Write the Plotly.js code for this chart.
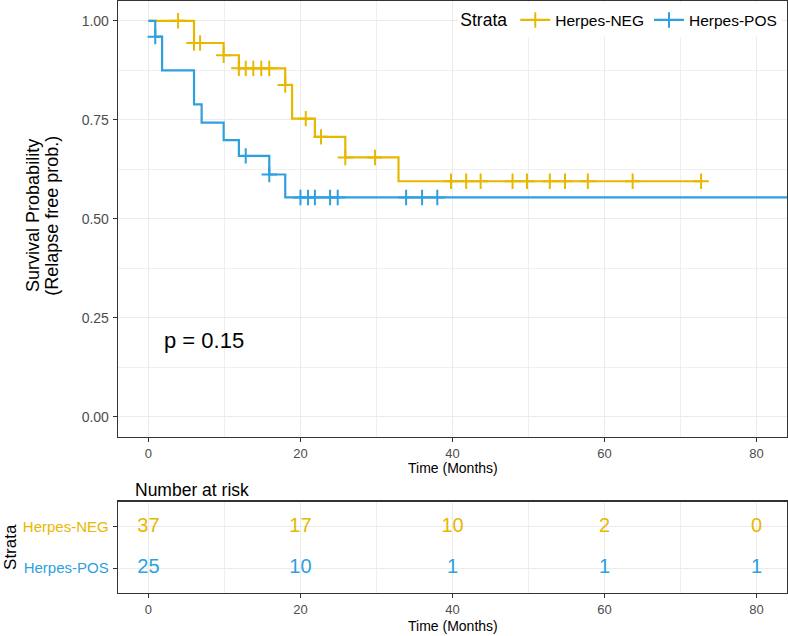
<!DOCTYPE html>
<html>
<head>
<meta charset="utf-8">
<script src="https://cdn.plot.ly/plotly-3.0.1.min.js"></script>
<style>html,body{margin:0;padding:0;background:#fff;}#plot{width:788px;height:636px;}</style>
</head>
<body>
<div id="plot"></div>
<script>
// ---- Data ----
var groups = ["Herpes-NEG", "Herpes-POS"];
var colors = ["#E7B800", "#2E9FDF"];

// Kaplan-Meier step curves (time in months, survival probability)
var negTime = [0, 6.0, 9.9, 11.9, 18.0, 18.9, 21.9, 25.9, 32.9, 72.7];
var negSurv = [1.0, 0.944, 0.913, 0.880, 0.838, 0.753, 0.707, 0.655, 0.595, 0.595];
var posTime = [0, 0.9, 1.8, 6.0, 7.0, 9.9, 11.9, 15.9, 18.0, 85];
var posSurv = [1.0, 0.96, 0.875, 0.789, 0.743, 0.699, 0.659, 0.612, 0.554, 0.554];

// Censoring marks
var negCensTime = [3.9, 6.0, 6.8, 9.9, 11.9, 12.8, 13.8, 14.85, 15.9, 18.0, 20.7, 22.7, 25.9, 29.8,
                   39.8, 41.8, 43.7, 47.9, 49.8, 52.8, 54.8, 57.8, 63.7, 72.7];
var negCensSurv = [1.0, 0.944, 0.944, 0.913, 0.880, 0.880, 0.880, 0.880, 0.880, 0.838, 0.753, 0.707, 0.655, 0.655,
                   0.595, 0.595, 0.595, 0.595, 0.595, 0.595, 0.595, 0.595, 0.595, 0.595];
var posCensTime = [0.9, 12.8, 15.9, 20.0, 21.0, 21.9, 23.9, 24.9, 33.9, 36.0, 38.0];
var posCensSurv = [0.96, 0.659, 0.612, 0.554, 0.554, 0.554, 0.554, 0.554, 0.554, 0.554, 0.554];

// Number at risk table
var riskTimes = [0, 20, 40, 60, 80];
var negRisk = [37, 17, 10, 2, 0];
var posRisk = [25, 10, 1, 1, 1];

var pValueText = "p = 0.15";
var xTicks = [0, 20, 40, 60, 80];
var yTicks = [0, 0.25, 0.5, 0.75, 1.0];
var yTickText = ["0.00", "0.25", "0.50", "0.75", "1.00"];

// ---- Build traces ----
var FONT = "Liberation Sans, Arial, sans-serif";
function gapped(arr) { var o = []; arr.forEach(function (v) { o.push(v); o.push(null); }); return o; }

var traces = [];
[[negTime, negSurv], [posTime, posSurv]].forEach(function (d, i) {
  traces.push({
    x: d[0], y: d[1], type: "scatter", mode: "lines", line: {shape: "hv", color: colors[i], width: 2.2},
    showlegend: false, legendgroup: groups[i], hoverinfo: "skip", xaxis: "x", yaxis: "y"
  });
});
[[negCensTime, negCensSurv], [posCensTime, posCensSurv]].forEach(function (d, i) {
  traces.push({
    x: gapped(d[0]), y: gapped(d[1]), type: "scatter", mode: "lines+markers", connectgaps: false,
    name: groups[i], legendgroup: groups[i],
    line: {color: colors[i], width: 2.2},
    marker: {symbol: "cross-thin", size: 11, color: colors[i], line: {color: colors[i], width: 2}},
    hoverinfo: "skip", xaxis: "x", yaxis: "y"
  });
});
[[negRisk, 1], [posRisk, 0]].forEach(function (d, i) {
  traces.push({
    x: riskTimes, y: riskTimes.map(function () { return d[1]; }),
    text: d[0].map(String), type: "scatter", mode: "text",
    textfont: {family: FONT, size: 20, color: colors[i]}, textposition: "middle center",
    showlegend: false, hoverinfo: "skip", xaxis: "x2", yaxis: "y2"
  });
});

var gridCol = "#EBEBEB";
var lineCol = "#333333";
var tickFont = {family: FONT, size: 13, color: "#4D4D4D"};

var layout = {
  width: 788, height: 636,
  margin: {l: 118, r: 1, t: 1, b: 43},
  paper_bgcolor: "#ffffff", plot_bgcolor: "#ffffff",
  font: {family: FONT},
  xaxis: {
    domain: [0, 1], anchor: "y", range: [-4, 84], tickvals: xTicks, ticks: "outside", ticklen: 4,
    tickcolor: lineCol, tickfont: tickFont, showgrid: true, gridcolor: gridCol, gridwidth: 1.1,
    minor: {dtick: 10, tick0: 0, showgrid: true, gridcolor: gridCol, gridwidth: 0.8, ticks: ""},
    zeroline: false, showline: true, mirror: true, linecolor: lineCol, linewidth: 1.3
  },
  yaxis: {
    domain: [0.264, 1], anchor: "x", range: [-0.05, 1.05], tickvals: yTicks, ticktext: yTickText,
    ticks: "outside", ticklen: 4, tickcolor: lineCol, tickfont: {family: FONT, size: 14, color: "#4D4D4D"},
    ticklabelstandoff: 1,
    showgrid: true, gridcolor: gridCol, gridwidth: 1.1,
    minor: {dtick: 0.125, tick0: 0, showgrid: true, gridcolor: gridCol, gridwidth: 0.8, ticks: ""},
    zeroline: false, showline: true, mirror: true, linecolor: lineCol, linewidth: 1.3
  },
  xaxis2: {
    domain: [0, 1], anchor: "y2", range: [-4, 84], tickvals: xTicks, ticks: "outside", ticklen: 4,
    tickcolor: lineCol, tickfont: tickFont, showgrid: true, gridcolor: gridCol, gridwidth: 1.1,
    minor: {dtick: 10, tick0: 0, showgrid: true, gridcolor: gridCol, gridwidth: 0.8, ticks: ""},
    zeroline: false, showline: true, mirror: true, linecolor: lineCol, linewidth: 1.3
  },
  yaxis2: {
    domain: [0, 0.1542], anchor: "x2", range: [-0.6, 1.6], tickvals: [0, 1],
    ticktext: ['<span style="color:' + colors[1] + '">' + groups[1] + '</span>',
               '<span style="color:' + colors[0] + '">' + groups[0] + '</span>'],
    ticks: "outside", ticklen: 4, tickcolor: lineCol, tickfont: {family: FONT, size: 15},
    ticklabelstandoff: 1,
    showgrid: true, gridcolor: gridCol, gridwidth: 1.1,
    zeroline: false, showline: true, mirror: true, linecolor: lineCol, linewidth: 1.3
  },
  legend: {
    orientation: "h", x: 0.993, xanchor: "right", y: 0.996, yanchor: "top",
    bgcolor: "#ffffff", borderwidth: 0, itemwidth: 30,
    font: {family: FONT, size: 15.5, color: "#000"},
    title: {text: "Strata", font: {family: FONT, size: 17.5, color: "#000"}}
  },
  annotations: [
    {xref: "x", yref: "y", x: 1.8, y: 0.194, xanchor: "left", yanchor: "middle", showarrow: false,
     text: pValueText, font: {family: FONT, size: 22, color: "#000"}},
    {xref: "paper", yref: "paper", x: -0.127, y: 0.637, textangle: -90, xanchor: "center", yanchor: "middle",
     showarrow: false, text: "Survival Probability", font: {family: FONT, size: 18, color: "#000"}},
    {xref: "paper", yref: "paper", x: -0.0987, y: 0.637, textangle: -90, xanchor: "center", yanchor: "middle",
     showarrow: false, text: "(Relapse free prob.)", font: {family: FONT, size: 18, color: "#000"}},
    {xref: "paper", yref: "paper", x: 0.5, y: 0.2105, xanchor: "center", yanchor: "middle",
     showarrow: false, text: "Time (Months)", font: {family: FONT, size: 14, color: "#000"}},
    {xref: "paper", yref: "paper", x: 0.0224, y: 0.174, xanchor: "left", yanchor: "middle",
     showarrow: false, text: "Number at risk", font: {family: FONT, size: 17.5, color: "#000"}},
    {xref: "paper", yref: "paper", x: -0.1615, y: 0.0777, textangle: -90, xanchor: "center", yanchor: "middle",
     showarrow: false, text: "Strata", font: {family: FONT, size: 17, color: "#000"}},
    {xref: "paper", yref: "paper", x: 0.5, y: -0.0557, xanchor: "center", yanchor: "middle",
     showarrow: false, text: "Time (Months)", font: {family: FONT, size: 14, color: "#000"}}
  ]
};

Plotly.newPlot("plot", traces, layout, {staticPlot: true, displayModeBar: false});
</script>
</body>
</html>
